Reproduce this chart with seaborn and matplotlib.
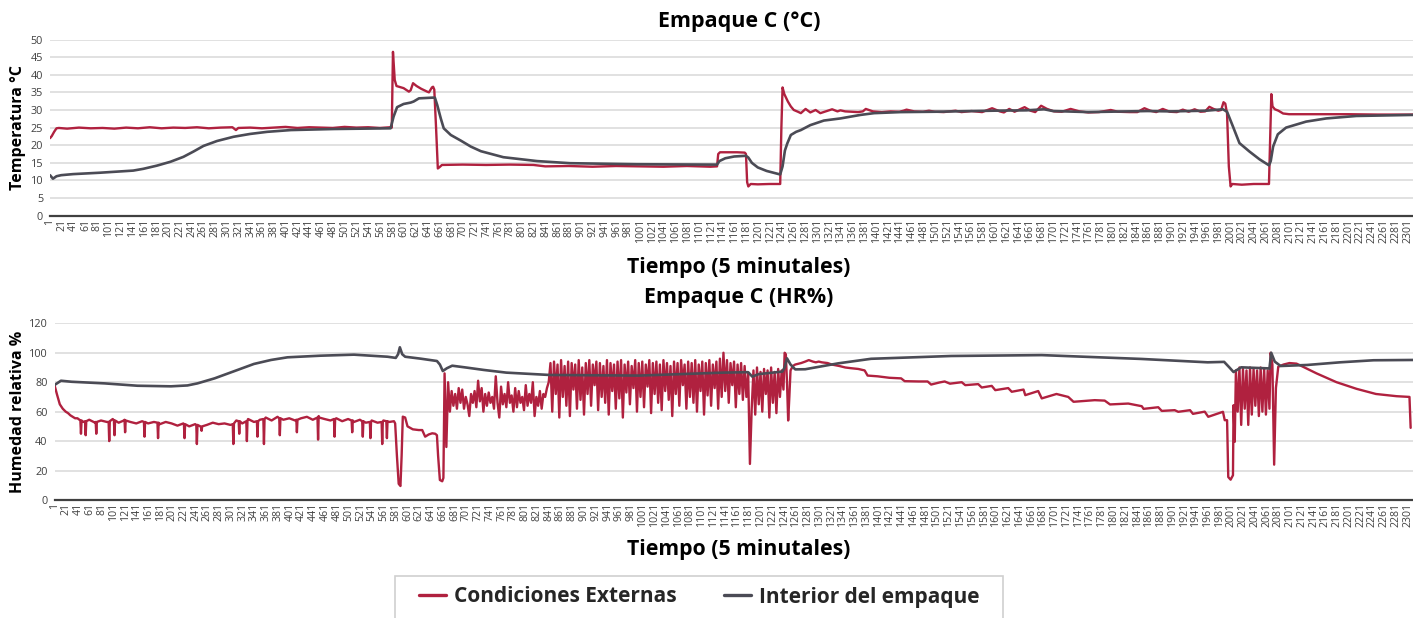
import numpy as np
import pandas as pd
import matplotlib
matplotlib.use("Agg")
import matplotlib.pyplot as plt
from matplotlib.lines import Line2D
from matplotlib.patches import Rectangle
import seaborn as sns

# ---------------------------------------------------------------
# Series labels, titles and tick labels
# ---------------------------------------------------------------
series_names = ["Condiciones Externas", "Interior del empaque"]
titles = ["Empaque C (°C)", "Empaque C (HR%)"]
y_titles = ["Temperatura °C", "Humedad relativa %"]
x_title = "Tiempo (5 minutales)"
x_ticks = list(range(1, 2302, 20))
x_tick_labels = [str(t) for t in x_ticks]
temp_ticks = [0, 5, 10, 15, 20, 25, 30, 35, 40, 45, 50]
hr_ticks = [0, 20, 40, 60, 80, 100, 120]

# ---------------------------------------------------------------
# Temperature readings (sample index, °C)
# ---------------------------------------------------------------
temp_ext_t = [1, 4, 8, 12, 16, 30, 50, 70, 90, 110, 130, 150, 170, 190, 210, 230, 250,
              270, 290, 310, 316, 320, 340, 360, 380, 400, 420, 440, 460, 480, 500, 520,
              540, 560, 578, 580, 582, 585, 588, 600, 609, 612, 616, 622, 630, 640, 643,
              648, 650, 652, 655, 658, 661, 665, 700, 740, 780, 820, 840, 880, 920, 960,
              1000, 1040, 1080, 1120, 1131, 1133, 1136, 1150, 1165, 1178, 1180, 1182, 1184,
              1188, 1200, 1220, 1238, 1240, 1242, 1245, 1251, 1256, 1261, 1268, 1273, 1281,
              1289, 1298, 1306, 1315, 1326, 1335, 1340, 1348, 1360, 1370, 1378, 1383, 1388,
              1395, 1410, 1425, 1440, 1447, 1452, 1465, 1480, 1490, 1500, 1515, 1535, 1545,
              1562, 1580, 1597, 1610, 1617, 1626, 1635, 1652, 1662, 1670, 1680, 1690, 1702,
              1715, 1730, 1745, 1760, 1778, 1798, 1810, 1830, 1843, 1855, 1865, 1875, 1886,
              1898, 1910, 1920, 1930, 1940, 1950, 1958, 1965, 1972, 1980, 1985, 1989, 1992,
              1995, 1998, 2001, 2004, 2020, 2040, 2066, 2068, 2070, 2072, 2076, 2082, 2090,
              2100, 2150, 2200, 2250, 2310]
temp_ext = [22.0, 22.6, 23.8, 24.8, 24.9, 24.7, 25.0, 24.8, 24.9, 24.7, 25.0, 24.8, 25.1,
            24.8, 25.0, 24.9, 25.1, 24.8, 25.0, 25.1, 24.3, 24.9, 25.0, 24.8, 25.0, 25.2,
            24.9, 25.1, 25.0, 24.9, 25.2, 25.0, 25.1, 24.9, 25.1, 25.0, 46.5, 38.5, 36.8,
            36.2, 35.2, 35.6, 37.6, 36.8, 36.0, 35.2, 35.0, 36.4, 36.6, 35.8, 25.0, 13.4,
            13.8, 14.4, 14.5, 14.4, 14.5, 14.4, 14.0, 14.1, 13.9, 14.1, 14.0, 13.9, 14.1,
            13.9, 14.0, 17.5, 18.0, 18.0, 18.0, 17.9, 17.5, 9.5, 8.3, 9.0, 8.9, 9.0, 9.0,
            25.0, 36.4, 34.5, 32.4, 31.0, 30.0, 29.5, 29.1, 30.3, 29.3, 30.0, 29.1, 29.6,
            30.2, 29.6, 29.9, 29.6, 29.5, 29.4, 29.6, 30.3, 30.0, 29.6, 29.4, 29.6, 29.5,
            29.8, 30.1, 29.6, 29.5, 29.8, 29.5, 29.4, 29.8, 29.4, 29.7, 29.4, 30.5, 29.6,
            29.3, 30.3, 29.5, 30.8, 29.8, 29.4, 31.2, 30.3, 29.6, 29.5, 30.3, 29.6, 29.3,
            29.4, 30.0, 29.5, 29.4, 29.4, 30.5, 29.8, 29.4, 30.3, 29.5, 29.4, 30.1, 29.5,
            30.2, 29.5, 29.6, 30.9, 30.3, 29.8, 30.0, 32.2, 31.8, 29.0, 14.0, 8.3, 9.0,
            8.8, 9.0, 9.0, 22.0, 34.5, 31.0, 30.2, 29.8, 29.0, 28.8, 28.8, 28.8, 28.7, 28.7]

temp_int_t = [1, 6, 12, 20, 40, 86, 142, 159, 182, 205, 227, 244, 261, 284, 312, 340, 369,
              409, 482, 578, 583, 589, 600, 612, 617, 626, 649, 653, 657, 663, 668, 680,
              697, 714, 731, 769, 826, 882, 995, 1131, 1135, 1145, 1160, 1180, 1184, 1190,
              1200, 1215, 1238, 1242, 1246, 1250, 1256, 1265, 1273, 1289, 1312, 1340, 1374,
              1397, 1442, 1500, 1600, 1655, 1685, 1700, 1760, 1860, 1900, 1960, 1988, 1995,
              2005, 2016, 2033, 2050, 2066, 2069, 2073, 2081, 2095, 2129, 2163, 2214, 2310]
temp_int = [11.5, 10.5, 11.2, 11.5, 11.8, 12.2, 12.8, 13.3, 14.2, 15.3, 16.7, 18.2, 19.8,
            21.2, 22.4, 23.2, 23.8, 24.3, 24.6, 24.8, 28.1, 30.8, 31.7, 32.1, 32.4, 33.3,
            33.5, 33.5, 31.4, 27.6, 24.8, 22.9, 21.3, 19.6, 18.3, 16.6, 15.5, 14.9, 14.6,
            14.5, 15.5, 16.3, 16.8, 17.0, 16.5, 15.0, 13.7, 12.7, 11.7, 14.0, 18.5, 20.5,
            22.9, 23.8, 24.3, 25.7, 27.0, 27.6, 28.6, 29.1, 29.4, 29.5, 29.8, 29.9, 30.2,
            29.7, 29.4, 29.7, 29.6, 29.8, 30.2, 29.5, 25.3, 20.6, 18.2, 16.0, 14.3, 15.5,
            19.6, 23.1, 25.0, 26.7, 27.6, 28.3, 28.6]

# ---------------------------------------------------------------
# Relative humidity readings (sample index, %)
# ---------------------------------------------------------------
hr_int_t = [1, 12, 30, 86, 142, 199, 227, 244, 273, 312, 340, 369, 397, 453, 510, 567, 581,
            585, 588, 592, 597, 623, 651, 656, 661, 668, 677, 700, 731, 769, 843, 995, 1137,
            1180, 1187, 1198, 1238, 1242, 1246, 1252, 1260, 1277, 1333, 1389, 1525, 1679,
            1848, 1961, 1989, 1998, 2005, 2018, 2063, 2066, 2069, 2075, 2085, 2130, 2186,
            2243, 2310]
hr_int = [78.1, 81.0, 80.3, 79.2, 77.6, 77.2, 77.8, 79.2, 82.6, 88.3, 92.4, 95.1, 96.9,
          98.0, 98.7, 97.3, 96.5, 99.0, 103.7, 99.0, 97.3, 96.0, 94.4, 92.0, 87.6, 89.5,
          91.2, 90.0, 88.3, 86.5, 84.9, 84.5, 86.5, 86.8, 83.8, 85.5, 87.2, 90.0, 96.2,
          92.0, 88.7, 88.8, 92.8, 95.9, 97.8, 98.4, 95.8, 93.5, 93.8, 90.0, 86.9, 90.1,
          89.4, 89.2, 100.0, 94.0, 91.0, 91.7, 93.5, 94.9, 95.1]

# outside humidity: smooth stretches
hr_ext_t = [1, 5, 10, 15, 20, 24, 28, 32, 36,
            40, 50, 60, 70, 80, 90, 100, 110, 120, 130, 140, 150, 160, 170, 180, 190, 200,
            210, 220, 230, 240, 250, 260, 270, 280, 290, 300, 310, 320, 330, 340, 350, 360,
            370, 380, 390, 400, 410, 420, 430, 440, 450, 460, 470, 480, 490, 500, 510, 520,
            530, 540, 550, 560, 570,
            578, 580, 583, 586, 589, 591, 593, 597, 601, 610, 620, 626, 631, 637, 643, 648,
            651, 653, 656, 660, 662,
            1242, 1244, 1246, 1248, 1250, 1252, 1256, 1260, 1270, 1277, 1283, 1290, 1295,
            1300, 1305, 1315, 1322, 1335, 1345, 1355, 1367, 1378, 1383, 1400, 1420, 1440,
            1446, 1470, 1485, 1491, 1505, 1514, 1523, 1543, 1549, 1571, 1577, 1594, 1600,
            1622, 1628, 1648, 1651, 1673, 1679, 1704, 1724, 1733, 1769, 1786, 1795, 1826,
            1849, 1852, 1877, 1883, 1905, 1911, 1931, 1936, 1956, 1962, 1987, 1990, 1994,
            1996, 2000, 2004, 2005, 2007,
            2068, 2071, 2074, 2077, 2081, 2090, 2100, 2112, 2123, 2146, 2180, 2214, 2247,
            2282, 2304, 2306]
hr_ext = [78.1, 72.0, 65.0, 62.0, 60.0, 59.0, 57.5, 56.5, 55.5,
          55.5, 53.0, 54.5, 52.5, 54.0, 53.0, 55.0, 52.5, 54.5, 53.0, 52.0, 53.5, 52.0, 53.0,
          51.5, 53.0, 52.0, 50.5, 52.0, 50.0, 51.5, 49.5, 51.0, 52.5, 51.5, 52.0, 51.0, 54.0,
          52.0, 55.0, 53.0, 54.5, 56.0, 54.0, 56.5, 54.5, 55.5, 54.0, 55.5, 56.5, 54.5, 57.0,
          55.0, 54.0, 55.5, 53.5, 55.0, 53.0, 54.5, 52.5, 54.0, 52.5, 54.0, 53.0,
          53.5, 52.0, 30.0, 11.0, 9.5, 30.0, 56.6, 56.0, 50.0, 48.0, 47.5, 47.5, 43.0, 44.5,
          45.3, 45.0, 44.0, 30.0, 13.6, 12.7, 15.0,
          100.0, 99.0, 80.0, 54.0, 70.0, 88.0, 91.0, 92.0, 93.0, 94.0, 95.0, 94.0, 93.5,
          94.0, 93.5, 93.0, 92.0, 91.0, 90.0, 89.5, 89.0, 88.0, 84.5, 84.0, 83.0, 82.6,
          80.7, 80.5, 80.5, 78.4, 79.8, 80.5, 79.0, 80.0, 78.0, 78.7, 76.4, 77.5, 74.6,
          76.0, 73.5, 75.0, 71.2, 74.0, 69.0, 72.0, 70.0, 66.7, 67.8, 67.5, 64.9, 65.5,
          63.7, 61.9, 63.0, 60.5, 61.0, 59.9, 61.0, 58.5, 60.0, 56.5, 59.9, 54.2, 54.2,
          15.6, 13.8, 16.8, 64.4, 39.5,
          100.0, 92.0, 24.0, 76.0, 90.5, 92.0, 93.0, 92.6, 90.5, 86.0, 80.0, 75.5, 72.0,
          70.5, 70.0, 49.0]

# outside humidity: short sharp drops in the first stretch
hr_ext_drop_t = [45, 46, 47, 53, 54, 55, 71, 72, 73, 93, 94, 95, 102, 103, 104, 119, 121,
                 122, 153, 154, 155, 176, 177, 178, 221, 222, 223, 242, 243, 244, 249, 251,
                 252, 304, 305, 306, 314, 315, 316, 327, 328, 329, 345, 346, 347, 356, 357,
                 358, 383, 384, 385, 412, 413, 414, 448, 449, 451, 476, 477, 478, 506, 507,
                 508, 524, 525, 526, 537, 538, 539, 557, 558, 559, 565, 566, 567]
hr_ext_drop = [54.0, 45.0, 54.0, 53.5, 44.0, 53.5, 53.0, 45.0, 53.0, 53.0, 40.0, 53.5,
               54.0, 44.0, 54.0, 54.0, 46.0, 54.0, 53.0, 43.0, 53.0, 52.5, 42.0, 52.5,
               51.5, 42.0, 51.5, 51.0, 38.0, 51.0, 50.0, 47.0, 50.0, 51.5, 38.0, 52.0,
               53.5, 45.0, 53.5, 53.5, 40.0, 54.0, 53.5, 43.0, 53.5, 55.0, 38.0, 55.0,
               55.5, 44.0, 55.5, 54.5, 46.0, 54.5, 56.0, 41.0, 56.0, 55.0, 43.0, 55.0,
               54.0, 46.0, 54.0, 53.5, 43.0, 53.5, 53.0, 42.0, 53.0, 53.0, 38.0, 53.0,
               53.5, 42.0, 53.5]

# outside humidity: rapid swings, one reading every 3 samples
burst_start = [664, 844, 2009]
burst_a = [86, 36, 80, 60, 74, 64, 72, 62, 76, 66, 75, 62, 70, 65, 57, 72, 66, 74, 63, 81,
           67, 76, 60, 72, 64, 73, 66, 70, 62, 84, 66, 56, 77, 65, 72, 63, 80, 66, 71, 60,
           76, 63, 74, 66, 70, 61, 78, 64, 72, 66, 80, 57, 70, 64, 74, 62, 72, 70, 76, 80]
burst_b = [93, 60, 94, 72, 92, 56, 95, 70, 91, 64,
           94, 57, 93, 75, 92, 62, 95, 68, 90, 58,
           93, 72, 95, 64, 92, 78, 94, 61, 93, 70,
           91, 66, 95, 58, 93, 74, 92, 62, 94, 69,
           95, 56, 92, 73, 94, 65, 91, 76, 95, 60,
           93, 70, 94, 63, 92, 77, 95, 59, 93, 72,
           94, 66, 92, 61, 95, 74, 93, 68, 91, 57,
           94, 72, 93, 64, 95, 78, 92, 62, 94, 70,
           93, 66, 95, 60, 92, 74, 94, 58, 93, 71,
           95, 64, 92, 76, 94, 62, 96, 70, 100, 74,
           95, 66, 93, 78, 94, 63, 92, 72, 93, 68,
           91, 70, 86, 24.5, 62, 88, 58, 90, 65, 87,
           60, 89, 72, 88, 56, 90, 66, 87, 59, 89,
           70, 88, 75]
burst_c = [88, 60, 90, 51, 89, 62, 88, 51, 90, 58, 89, 64, 88, 57, 90, 60, 89, 58, 88, 62]

# ---------------------------------------------------------------
# Tables for seaborn
# ---------------------------------------------------------------
def frame(t, v):
    return pd.DataFrame({"muestra": np.asarray(t, dtype=float),
                         "valor": np.asarray(v, dtype=float)})

bursts = [frame(np.arange(s, s + 3 * len(b), 3), b)
          for s, b in zip(burst_start, [burst_a, burst_b, burst_c])]
hr_ext_df = (pd.concat([frame(hr_ext_drop_t, hr_ext_drop), frame(hr_ext_t, hr_ext)] + bursts)
             .drop_duplicates("muestra", keep="first")
             .sort_values("muestra"))

panels = [
    (frame(temp_ext_t, temp_ext), frame(temp_int_t, temp_int), temp_ticks),
    (hr_ext_df, frame(hr_int_t, hr_int), hr_ticks),
]

# ---------------------------------------------------------------
# Figure
# ---------------------------------------------------------------
sns.set_theme(style="white")
plt.rcParams["font.family"] = ["Open Sans", "DejaVu Sans"]

RED = "#B0213F"
GREY = "#4B4B55"
W, H = 1413, 618
fig = plt.figure(figsize=(W / 100, H / 100), dpi=100)

# axes boxes in pixels: left, top(y max), bottom(y min)
boxes = [(50, 39.5, 215.7), (54.5, 323.3, 500.0)]
title_y = [22, 298]
xlabel_y = [267, 549]

for i, ((ext_df, int_df, yt), (left, top, bottom)) in enumerate(zip(panels, boxes)):
    ax = fig.add_axes([left / W, 1 - bottom / H, (W - left) / W, (bottom - top) / H])
    sns.lineplot(data=ext_df, x="muestra", y="valor", ax=ax, color=RED, lw=1.7,
                 estimator=None, sort=False)
    sns.lineplot(data=int_df, x="muestra", y="valor", ax=ax, color=GREY, lw=1.9,
                 estimator=None, sort=False)
    ax.set_xlim(1, 2310)
    ax.set_ylim(yt[0], yt[-1])
    ax.set_yticks(yt)
    ax.set_xticks(x_ticks)
    ax.set_xticklabels(x_tick_labels, rotation=90)
    ax.tick_params(axis="x", length=0, pad=2, labelsize=7.6, colors="#404040")
    ax.tick_params(axis="y", length=0, pad=5, labelsize=7.8, colors="#404040")
    ax.yaxis.grid(True, color="#d9d9d9", lw=1.1)
    ax.set_axisbelow(True)
    for side in ("left", "right", "top"):
        ax.spines[side].set_visible(False)
    ax.spines["bottom"].set_color("#404040")
    ax.spines["bottom"].set_linewidth(1.6)
    ax.spines["bottom"].set_zorder(5)
    ax.set_xlabel("")
    ax.set_ylabel("")

    fig.text(739 / W, 1 - title_y[i] / H, titles[i], ha="center", va="center",
             fontsize=15.5, fontweight="bold", color="black")
    fig.text(739 / W, 1 - xlabel_y[i] / H, x_title, ha="center", va="center",
             fontsize=15.3, fontweight="bold", color="black")
    fig.text(18 / W, 1 - (top + bottom) / 2 / H, y_titles[i], ha="center", va="center",
             rotation=90, fontsize=11.5, fontweight="bold", color="black")

# legend: frame box running past the lower edge, entries centred inside it
fig.patches.append(Rectangle((395 / W, 1 - 650 / H), 608 / W, 74 / H,
                             transform=fig.transFigure, fill=False,
                             edgecolor="#d0d0d0", lw=1.2))
handles = [Line2D([], [], color=RED, lw=2.4), Line2D([], [], color=GREY, lw=2.4)]
fig.legend(handles, series_names, loc="center",
           bbox_to_anchor=(699 / W, 1 - 597 / H), ncol=2, frameon=False,
           borderpad=0.2, handlelength=1.3, handletextpad=0.4, columnspacing=2.25,
           prop={"weight": "bold", "size": 15})

fig.savefig("out.png", dpi=100)
